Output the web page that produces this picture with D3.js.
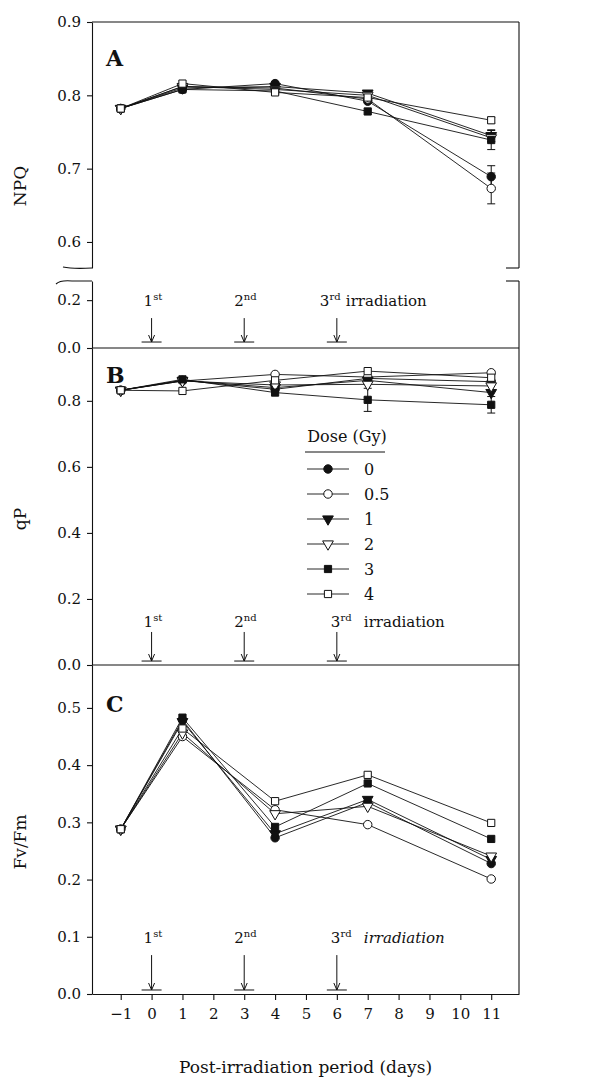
<!DOCTYPE html>
<html><head><meta charset="utf-8">
<script src="https://cdn.jsdelivr.net/npm/d3@7/dist/d3.min.js"></script>
<style>
html,body{margin:0;padding:0;background:#fff;}
svg text{font-family:"DejaVu Serif",serif;fill:#111;}
</style></head>
<body>
<svg id="chart" width="592" height="1079"></svg>
<script>
// ---------- data ----------
const days = [-1, 1, 4, 7, 11];
const doseLabels = ["0", "0.5", "1", "2", "3", "4"];
const xTickValues = [-1, 0, 1, 2, 3, 4, 5, 6, 7, 8, 9, 10, 11];
const irradiationDays = [0, 3, 6];
const irradiationNums = ["1", "2", "3"];
const irradiationSups = ["st", "nd", "rd"];

// Panel A: NPQ
const npqDose0  = [0.782, 0.808, 0.816, 0.792, 0.689];
const npqDose05 = [0.782, 0.812, 0.810, 0.795, 0.673];
const npqDose1  = [0.782, 0.810, 0.812, 0.803, 0.745];
const npqDose2  = [0.782, 0.812, 0.808, 0.800, 0.742];
const npqDose3  = [0.782, 0.808, 0.806, 0.778, 0.739];
const npqDose4  = [0.782, 0.816, 0.804, 0.797, 0.766];
const npqErr0  = [0, 0, 0, 0, 0.015];
const npqErr05 = [0, 0, 0, 0, 0.021];
const npqErr1  = [0, 0, 0, 0, 0.008];
const npqErr2  = [0, 0, 0, 0, 0];
const npqErr3  = [0, 0, 0, 0, 0.013];
const npqErr4  = [0, 0, 0, 0, 0.004];
const npqTicksUpper = [0.6, 0.7, 0.8, 0.9];
const npqTicksLower = [0.0, 0.2];

// Panel B: qP
const qpDose0  = [0.832, 0.862, 0.835, 0.868, 0.858];
const qpDose05 = [0.832, 0.860, 0.880, 0.872, 0.885];
const qpDose1  = [0.832, 0.862, 0.840, 0.862, 0.825];
const qpDose2  = [0.832, 0.860, 0.848, 0.850, 0.845];
const qpDose3  = [0.832, 0.865, 0.825, 0.803, 0.788];
const qpDose4  = [0.832, 0.830, 0.862, 0.890, 0.870];
const qpErr0  = [0, 0, 0, 0, 0];
const qpErr05 = [0, 0, 0, 0, 0];
const qpErr1  = [0, 0, 0, 0, 0];
const qpErr2  = [0, 0, 0, 0, 0];
const qpErr3  = [0, 0, 0, 0.035, 0.025];
const qpErr4  = [0, 0, 0, 0, 0];
const qpTicks = [0.0, 0.2, 0.4, 0.6, 0.8];

// Panel C: Fv/Fm
const fvDose0  = [0.288, 0.479, 0.273, 0.335, 0.228];
const fvDose05 = [0.288, 0.450, 0.322, 0.296, 0.201];
const fvDose1  = [0.288, 0.476, 0.280, 0.340, 0.235];
const fvDose2  = [0.288, 0.456, 0.315, 0.328, 0.241];
const fvDose3  = [0.288, 0.483, 0.292, 0.368, 0.271];
const fvDose4  = [0.288, 0.464, 0.337, 0.383, 0.299];
const fvTicks = [0.0, 0.1, 0.2, 0.3, 0.4, 0.5];

// ---------- layout ----------
const svg = d3.select("#chart");
const L = 92, R = 519;
const X = d3.scaleLinear().domain([-1.93, 11.9]).range([L, R]);
const yAup = d3.scaleLinear().domain([0.5645, 0.9]).range([268, 22]);
const yAlow = d3.scaleLinear().domain([0, 0.28]).range([348, 281]);
const yB = d3.scaleLinear().domain([0, 0.96]).range([665, 348]);
const yC = d3.scaleLinear().domain([0, 0.575]).range([994, 665]);
const fmt = d3.format(".1f");
const TICKFONT = 15;

const markerStyles = [
  {type: d3.symbolCircle, size: 56, fill: "#111", rot: 0},
  {type: d3.symbolCircle, size: 56, fill: "#fff", rot: 0},
  {type: d3.symbolTriangle, size: 50, fill: "#111", rot: 180},
  {type: d3.symbolTriangle, size: 50, fill: "#fff", rot: 180},
  {type: d3.symbolSquare, size: 52, fill: "#111", rot: 0},
  {type: d3.symbolSquare, size: 52, fill: "#fff", rot: 0}
];

function yAxis(scale, ticks) {
  const g = svg.append("g").attr("transform", `translate(${L},0)`)
    .call(d3.axisLeft(scale).tickValues(ticks).tickFormat(fmt).tickSize(5).tickSizeOuter(0).tickPadding(6));
  g.selectAll("path,line").attr("stroke", "#111").attr("stroke-width", 1.1);
  g.selectAll("text").style("font-size", TICKFONT + "px").style("font-family", '"DejaVu Serif",serif').attr("fill", "#111");
  return g;
}

// axes
yAxis(yAup, npqTicksUpper);
yAxis(yAlow, npqTicksLower);
yAxis(yB, qpTicks);
yAxis(yC, fvTicks);

const xg = svg.append("g").attr("transform", `translate(0,${yC(0)})`)
  .call(d3.axisBottom(X).tickValues(xTickValues)
    .tickFormat(d => d < 0 ? "\u2212" + Math.abs(d) : String(d))
    .tickSize(6).tickSizeOuter(0).tickPadding(8));
xg.selectAll("path,line").attr("stroke", "#111").attr("stroke-width", 1.1);
xg.selectAll("text").style("font-size", TICKFONT + "px").style("font-family", '"DejaVu Serif",serif').attr("fill", "#111");

// frame lines
const frame = svg.append("g").attr("stroke", "#111").attr("stroke-width", 1.1).attr("fill", "none");
frame.append("line").attr("x1", L).attr("x2", R).attr("y1", yAup(0.9)).attr("y2", yAup(0.9));
frame.append("line").attr("x1", R).attr("x2", R).attr("y1", yAup(0.9)).attr("y2", yAup.range()[0]);
frame.append("line").attr("x1", R).attr("x2", R).attr("y1", yAlow.range()[1]).attr("y2", yC(0));
frame.append("line").attr("x1", L).attr("x2", R).attr("y1", yAlow(0)).attr("y2", yAlow(0));
frame.append("line").attr("x1", L).attr("x2", R).attr("y1", yB(0)).attr("y2", yB(0));
// break marks
const yb1 = yAup.range()[0], yb2 = yAlow.range()[1];
frame.append("path").attr("d", `M${L-29},${yb1-1} Q${L-20},${yb1+1} ${L},${yb1}`);
frame.append("path").attr("d", `M${L-36},${yb2+3} Q${L-32},${yb2-1} ${L-20},${yb2} L${L},${yb2}`);
frame.append("line").attr("x1", R-13).attr("x2", R).attr("y1", yb1).attr("y2", yb1);
frame.append("line").attr("x1", R-13).attr("x2", R).attr("y1", yb2).attr("y2", yb2);

// ---------- series drawing ----------
function drawPanel(series, errs, yFn) {
  const g = svg.append("g");
  const line = d3.line().x((d, i) => X(days[i])).y(d => yFn(d));
  series.forEach(s => {
    g.append("path").attr("d", line(s)).attr("fill", "none").attr("stroke", "#111").attr("stroke-width", 0.9);
  });
  if (errs) {
    series.forEach((s, k) => {
      errs[k].forEach((e, i) => {
        if (!e) return;
        const xx = X(days[i]);
        const y1 = yFn(s[i] - e), y2 = yFn(s[i] + e);
        g.append("line").attr("x1", xx).attr("x2", xx).attr("y1", y1).attr("y2", y2).attr("stroke", "#111").attr("stroke-width", 1);
        [y1, y2].forEach(yy => g.append("line").attr("x1", xx - 4).attr("x2", xx + 4).attr("y1", yy).attr("y2", yy).attr("stroke", "#111").attr("stroke-width", 1));
      });
    });
  }
  series.forEach((s, k) => {
    const st = markerStyles[k];
    const sym = d3.symbol().type(st.type).size(st.size);
    s.forEach((v, i) => {
      g.append("path").attr("d", sym())
        .attr("transform", `translate(${X(days[i])},${yFn(v)}) rotate(${st.rot})`)
        .attr("fill", st.fill).attr("stroke", "#111").attr("stroke-width", 1);
    });
  });
}

drawPanel([npqDose0, npqDose05, npqDose1, npqDose2, npqDose3, npqDose4],
          [npqErr0, npqErr05, npqErr1, npqErr2, npqErr3, npqErr4], yAup);
drawPanel([qpDose0, qpDose05, qpDose1, qpDose2, qpDose3, qpDose4],
          [qpErr0, qpErr05, qpErr1, qpErr2, qpErr3, qpErr4], yB);
drawPanel([fvDose0, fvDose05, fvDose1, fvDose2, fvDose3, fvDose4], null, yC);

// ---------- irradiation annotations ----------
function irradiation(yScale, vText, vTop, vBase, offs, wordDx, italic) {
  const g = svg.append("g");
  irradiationDays.forEach((d, i) => {
    const xx = X(d);
    const t = g.append("text").attr("x", xx + offs[i]).attr("y", yScale(vText)).style("font-size", "15px");
    t.append("tspan").text(irradiationNums[i]);
    t.append("tspan").attr("dy", -6).style("font-size", "10px").text(irradiationSups[i]);
    if (i === 2) {
      g.append("text").attr("x", xx + wordDx).attr("y", yScale(vText)).style("font-size", "15px")
        .style("font-style", italic ? "italic" : "normal").text("irradiation");
    }
    const yt = yScale(vTop), yb = yScale(vBase);
    g.append("line").attr("x1", xx).attr("x2", xx).attr("y1", yt).attr("y2", yb).attr("stroke", "#111").attr("stroke-width", 1);
    g.append("path").attr("d", `M${xx-3},${yb-7} L${xx},${yb} L${xx+3},${yb-7}`).attr("fill", "none").attr("stroke", "#111").attr("stroke-width", 1);
    g.append("line").attr("x1", xx - 10).attr("x2", xx + 10).attr("y1", yb).attr("y2", yb).attr("stroke", "#111").attr("stroke-width", 1);
  });
}
irradiation(yAlow, 0.175, 0.125, 0.025, [-8, -10, -17], 9, false);
irradiation(yB, 0.115, 0.10, 0.012, [-8, -10, -6], 27, false);
irradiation(yC, 0.089, 0.068, 0.007, [-8, -10, -6], 27, true);

// ---------- panel letters & titles ----------
[["A", 66], ["B", 383], ["C", 712]].forEach(([t, y]) => {
  svg.append("text").attr("x", 106).attr("y", y).style("font-size", "22px").style("font-weight", "bold").text(t);
});
[["NPQ", 186], ["qP", 519], ["Fv/Fm", 842]].forEach(([t, y]) => {
  svg.append("text").attr("transform", `translate(26,${y}) rotate(-90)`).attr("text-anchor", "middle")
    .style("font-size", "17px").text(t);
});
svg.append("text").attr("x", (L + R) / 2).attr("y", 1073).attr("text-anchor", "middle")
  .style("font-size", "17px").text("Post-irradiation period (days)");

// ---------- legend ----------
const lg = svg.append("g");
lg.append("text").attr("x", 347).attr("y", 442).attr("text-anchor", "middle").style("font-size", "16px").text("Dose (Gy)");
lg.append("line").attr("x1", 305).attr("x2", 385).attr("y1", 452).attr("y2", 452).attr("stroke", "#111").attr("stroke-width", 1);
doseLabels.forEach((lab, k) => {
  const yy = 469 + 25 * k;
  const st = markerStyles[k];
  lg.append("line").attr("x1", 307).attr("x2", 349).attr("y1", yy).attr("y2", yy).attr("stroke", "#111").attr("stroke-width", 0.9);
  lg.append("path").attr("d", d3.symbol().type(st.type).size(st.size)())
    .attr("transform", `translate(328,${yy}) rotate(${st.rot})`)
    .attr("fill", st.fill).attr("stroke", "#111").attr("stroke-width", 1);
  lg.append("text").attr("x", 364).attr("y", yy + 5.5).style("font-size", "16px").text(lab);
});
</script>
</body></html>
